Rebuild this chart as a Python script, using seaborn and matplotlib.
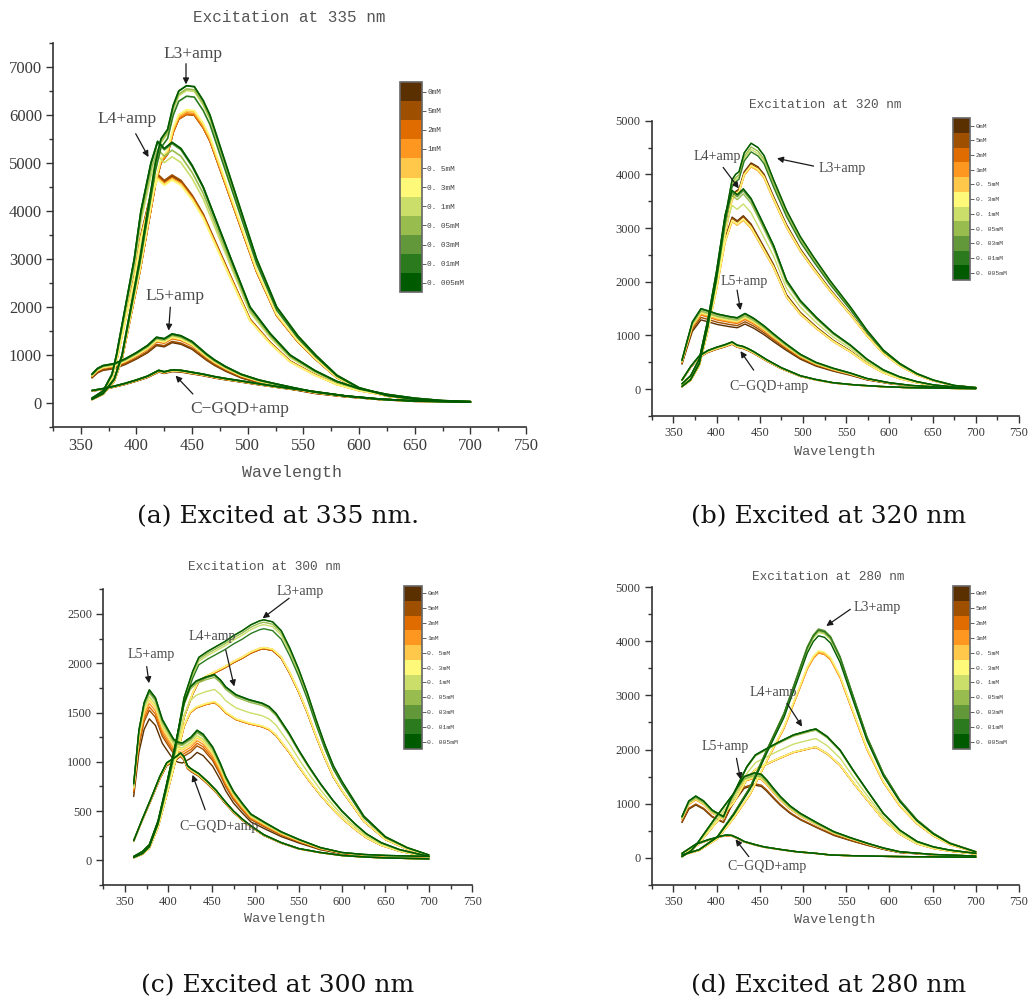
import numpy as np
import pandas as pd
import matplotlib
matplotlib.use("Agg")
import matplotlib.pyplot as plt
import seaborn as sns
from matplotlib.colors import ListedColormap, BoundaryNorm
from matplotlib.cm import ScalarMappable
from matplotlib.ticker import MultipleLocator

# ---------------- data ----------------
conc_labels = ["0mM", "5mM", "2mM", "1mM", "0. 5mM", "0. 3mM", "0. 1mM",
               "0. 05mM", "0. 03mM", "0. 01mM", "0. 005mM"]
conc_colors = ["#5B3000", "#9E4F00", "#E06C00", "#FD9720", "#FFC84A", "#FFF97A",
               "#CCDE6A", "#98BC4E", "#62983A", "#2C7A1E", "#005A00"]
groups = ["L3+amp", "L4+amp", "L5+amp", "C-GQD+amp"]

# (a) excitation 335 nm
a_L3_wl = [360, 370, 380, 387, 395, 403, 410, 417, 422, 428, 433, 438, 445, 452, 460, 466, 480, 494, 508, 526, 545, 561, 580, 600, 625, 650, 675, 700]
a_L3_I = [80, 200, 500, 1000, 2000, 3000, 4000, 5000, 5500, 5700, 6200, 6500, 6610, 6590, 6300, 6000, 5000, 4000, 3000, 2000, 1400, 1000, 580, 320, 160, 80, 40, 20]
a_L4_wl = [360, 370, 378, 382, 390, 398, 404, 413, 419, 425, 432, 440, 450, 460, 470, 485, 502, 520, 538, 560, 580, 600, 625, 650, 675, 700]
a_L4_I = [100, 250, 600, 1000, 2000, 3000, 4000, 5000, 5450, 5300, 5430, 5300, 4950, 4500, 3900, 3000, 2000, 1450, 1000, 680, 450, 300, 180, 100, 50, 30]
a_L5_wl = [360, 365, 370, 380, 390, 400, 410, 418, 425, 432, 440, 450, 463, 470, 480, 494, 510, 525, 541, 560, 587, 620, 650, 700]
a_L5_I = [600, 720, 780, 820, 920, 1050, 1200, 1370, 1340, 1440, 1400, 1280, 1020, 900, 760, 600, 480, 400, 320, 230, 150, 80, 40, 25]
a_C_wl = [360, 370, 380, 390, 400, 410, 420, 425, 432, 440, 450, 460, 470, 480, 494, 510, 530, 556, 590, 618, 650, 700]
a_C_I = [260, 300, 350, 410, 480, 560, 680, 650, 690, 680, 640, 600, 550, 510, 460, 400, 330, 250, 140, 80, 45, 20]
a_ratio_L3 = [0.91, 0.91, 0.91, 0.915, 0.92, 0.925, 0.985, 0.99, 1.0, 0.967, 1.0]
a_ratio_L4 = [0.87, 0.875, 0.865, 0.86, 0.86, 0.855, 0.945, 0.97, 0.995, 1.0, 1.0]
a_ratio_L5 = [0.875, 0.89, 0.93, 0.94, 0.95, 0.95, 0.97, 0.98, 0.99, 1.0, 1.0]
a_ratio_C = [0.95, 0.96, 0.97, 0.97, 0.98, 0.98, 0.99, 1.0, 1.0, 1.0, 1.0]

# (b) excitation 320 nm
b_L3_wl = [360, 370, 380, 390, 400, 410, 418, 422, 426, 432, 440, 448, 455, 466, 481, 497, 512, 531, 555, 574, 593, 612, 632, 651, 675, 700]
b_L3_I = [50, 180, 480, 1200, 2100, 3200, 3900, 4000, 4050, 4400, 4580, 4500, 4350, 3900, 3330, 2840, 2470, 2030, 1530, 1100, 730, 480, 290, 170, 70, 30]
b_L4_wl = [360, 370, 380, 390, 400, 410, 418, 424, 431, 440, 450, 466, 481, 497, 516, 535, 555, 574, 593, 612, 632, 651, 675, 700]
b_L4_I = [100, 250, 560, 1300, 2200, 3250, 3700, 3620, 3730, 3550, 3220, 2680, 2030, 1650, 1330, 1050, 820, 560, 360, 230, 140, 80, 40, 20]
b_L5_wl = [360, 366, 372, 382, 392, 401, 410, 416, 424, 433, 443, 455, 466, 480, 497, 515, 535, 555, 574, 600, 625, 650, 675, 700]
b_L5_I = [540, 900, 1250, 1500, 1450, 1400, 1370, 1350, 1330, 1410, 1320, 1180, 1030, 850, 650, 500, 390, 300, 200, 120, 70, 45, 25, 15]
b_C_wl = [360, 370, 380, 390, 400, 410, 418, 424, 430, 436, 443, 458, 475, 497, 515, 535, 560, 590, 620, 650, 700]
b_C_I = [170, 420, 620, 720, 780, 830, 880, 820, 800, 760, 700, 550, 400, 250, 180, 120, 80, 50, 30, 20, 10]
b_ratio_L3 = [0.92, 0.915, 0.905, 0.905, 0.905, 0.91, 0.975, 0.985, 1.0, 0.965, 1.0]
b_ratio_L4 = [0.866, 0.86, 0.845, 0.845, 0.845, 0.85, 0.925, 0.975, 0.99, 1.0, 1.0]
b_ratio_L5 = [0.86, 0.89, 0.92, 0.93, 0.94, 0.95, 0.96, 0.97, 0.99, 1.0, 1.0]
b_ratio_C = [0.95, 0.96, 0.96, 0.96, 0.97, 0.97, 0.98, 0.99, 1.0, 1.0, 1.0]

# (c) excitation 300 nm
c_L3_wl = [360, 370, 378, 388, 397, 408, 418, 428, 435, 445, 455, 465, 475, 485, 495, 505, 510, 520, 530, 540, 550, 560, 570, 580, 590, 600, 625, 650, 675, 700]
c_L3_I = [30, 70, 140, 380, 720, 1160, 1650, 1920, 2060, 2120, 2170, 2220, 2280, 2330, 2390, 2430, 2440, 2420, 2330, 2150, 1940, 1700, 1430, 1180, 960, 800, 450, 240, 130, 55]
c_L4_wl = [360, 370, 378, 388, 397, 408, 418, 425, 432, 443, 453, 460, 466, 478, 493, 508, 516, 524, 539, 550, 562, 575, 589, 600, 615, 628, 645, 666, 685, 700]
c_L4_I = [40, 90, 160, 400, 740, 1180, 1600, 1760, 1820, 1860, 1885, 1830, 1760, 1680, 1630, 1595, 1560, 1490, 1290, 1120, 950, 780, 615, 500, 370, 270, 180, 110, 70, 40]
c_L5_wl = [360, 366, 372, 378, 385, 393, 400, 406, 411, 416, 421, 426, 433, 440, 451, 460, 466, 475, 485, 495, 512, 530, 551, 575, 600, 625, 650, 675, 700]
c_L5_I = [780, 1320, 1600, 1730, 1650, 1430, 1320, 1230, 1200, 1190, 1220, 1250, 1320, 1280, 1150, 980, 850, 700, 580, 470, 380, 290, 210, 130, 80, 60, 50, 45, 40]
c_C_wl = [360, 370, 380, 390, 398, 405, 410, 414, 418, 422, 426, 435, 445, 455, 465, 475, 485, 495, 510, 530, 550, 575, 600, 625, 650, 675, 700]
c_C_I = [200, 420, 630, 850, 990, 1030, 1060, 1090, 1050, 960, 930, 880, 800, 710, 600, 500, 420, 350, 260, 180, 120, 80, 50, 35, 25, 20, 15]
c_ratio_L3 = [0.88, 0.88, 0.88, 0.885, 0.885, 0.885, 0.98, 0.99, 1.0, 0.963, 1.0]
c_ratio_L4 = [0.85, 0.85, 0.85, 0.85, 0.855, 0.855, 0.92, 0.985, 0.995, 1.0, 1.0]
c_ratio_L5 = [0.83, 0.88, 0.9, 0.92, 0.94, 0.95, 0.96, 0.98, 0.99, 1.0, 1.0]
c_ratio_C = [0.97, 0.97, 0.98, 0.98, 0.98, 0.99, 0.99, 1.0, 1.0, 1.0, 1.0]

# (d) excitation 280 nm
d_L3_wl = [360, 380, 401, 420, 439, 458, 478, 493, 505, 512, 518, 525, 532, 543, 558, 574, 593, 612, 632, 651, 670, 700]
d_L3_I = [50, 150, 390, 820, 1310, 1990, 2670, 3350, 3900, 4120, 4230, 4200, 4090, 3720, 3000, 2240, 1560, 1070, 700, 450, 270, 110]
d_L4_wl = [360, 378, 397, 420, 435, 445, 455, 470, 489, 509, 515, 528, 543, 558, 574, 593, 612, 632, 651, 670, 700]
d_L4_I = [80, 270, 700, 1190, 1680, 1900, 1990, 2120, 2270, 2360, 2380, 2240, 1990, 1620, 1250, 820, 510, 300, 200, 140, 80]
d_L5_wl = [360, 368, 376, 385, 395, 408, 416, 422, 432, 444, 452, 458, 466, 474, 485, 497, 517, 536, 555, 574, 593, 612, 650, 700]
d_L5_I = [760, 1050, 1140, 1050, 880, 760, 1070, 1250, 1500, 1570, 1540, 1440, 1280, 1130, 960, 820, 640, 480, 370, 270, 180, 110, 60, 30]
d_C_wl = [360, 370, 378, 390, 397, 405, 412, 418, 425, 432, 445, 455, 475, 493, 515, 532, 560, 612, 700]
d_C_I = [20, 120, 260, 330, 360, 400, 420, 410, 360, 300, 240, 200, 150, 110, 80, 50, 35, 20, 8]
d_ratio_L3 = [0.995, 0.9, 0.895, 0.895, 0.9, 0.905, 0.985, 0.99, 1.0, 0.995, 0.97]
d_ratio_L4 = [0.86, 0.857, 0.857, 0.857, 0.86, 0.86, 0.925, 0.99, 1.0, 1.0, 1.0]
d_ratio_L5 = [0.855, 0.87, 0.94, 0.94, 0.95, 0.95, 0.96, 0.97, 0.99, 1.0, 1.0]
d_ratio_C = [0.97, 0.97, 0.98, 0.98, 0.98, 0.99, 0.99, 1.0, 1.0, 1.0, 1.0]


def build_df(curves, ratios):
    rows = []
    for g in groups:
        wl, inten = curves[g]
        for c, r in zip(conc_labels, ratios[g]):
            for w, v in zip(wl, inten):
                rows.append((g, c, w, v * r))
    return pd.DataFrame(rows, columns=["group", "conc", "wl", "I"])


df_a = build_df({"L3+amp": (a_L3_wl, a_L3_I), "L4+amp": (a_L4_wl, a_L4_I),
                 "L5+amp": (a_L5_wl, a_L5_I), "C-GQD+amp": (a_C_wl, a_C_I)},
                {"L3+amp": a_ratio_L3, "L4+amp": a_ratio_L4,
                 "L5+amp": a_ratio_L5, "C-GQD+amp": a_ratio_C})
df_b = build_df({"L3+amp": (b_L3_wl, b_L3_I), "L4+amp": (b_L4_wl, b_L4_I),
                 "L5+amp": (b_L5_wl, b_L5_I), "C-GQD+amp": (b_C_wl, b_C_I)},
                {"L3+amp": b_ratio_L3, "L4+amp": b_ratio_L4,
                 "L5+amp": b_ratio_L5, "C-GQD+amp": b_ratio_C})
df_c = build_df({"L3+amp": (c_L3_wl, c_L3_I), "L4+amp": (c_L4_wl, c_L4_I),
                 "L5+amp": (c_L5_wl, c_L5_I), "C-GQD+amp": (c_C_wl, c_C_I)},
                {"L3+amp": c_ratio_L3, "L4+amp": c_ratio_L4,
                 "L5+amp": c_ratio_L5, "C-GQD+amp": c_ratio_C})
df_d = build_df({"L3+amp": (d_L3_wl, d_L3_I), "L4+amp": (d_L4_wl, d_L4_I),
                 "L5+amp": (d_L5_wl, d_L5_I), "C-GQD+amp": (d_C_wl, d_C_I)},
                {"L3+amp": d_ratio_L3, "L4+amp": d_ratio_L4,
                 "L5+amp": d_ratio_L5, "C-GQD+amp": d_ratio_C})

# ---------------- layout ----------------
W, H = 1028, 1002


def fx(px):
    return px / W


def fy(py):
    return 1 - py / H


panels = [
    dict(df=df_a, rect=(53, 43, 526, 427), ylim=(-500, 7500), ymaj=1000, ymin=500,
         fs_tick=12, fs_title=11.5, fs_ann=12.5, lw=1.2,
         title="Excitation at 335 nm", title_xy=(289, 18), xlabel_xy=(292, 473),
         cbar=(400, 82, 421.7, 292.3), cb_fs=5.6,
         caption="(a) Excited at 335 nm.", cap_xy=(278, 517),
         ann=[("L3+amp", (450.7, 7278), (444.5, 7069), (444.5, 6638)),
              ("L4+amp", (391.5, 5922), (399.3, 5610), (410.8, 5123)),
              ("L5+amp", (435, 2224), (430.4, 1995), (428.9, 1508)),
              ("C\u2212GQD+amp", (492.8, -125), (450.7, 188), (435.1, 570))]),
    dict(df=df_b, rect=(651.7, 120.7, 1019, 416), ylim=(-500, 5000), ymaj=1000, ymin=500,
         fs_tick=9, fs_title=9.2, fs_ann=10, lw=1.0,
         title="Excitation at 320 nm", title_xy=(825, 105), xlabel_xy=(835, 452),
         cbar=(952.7, 118.3, 970, 280), cb_fs=4.6,
         caption="(b) Excited at 320 nm", cap_xy=(829, 517),
         ann=[("L3+amp", (545, 4112), (512.3, 4155), (470, 4298)),
              ("L4+amp", (400.8, 4342), (407.7, 4130), (425.8, 3739)),
              ("L5+amp", (431.5, 2000), (423.8, 1845), (427.7, 1472)),
              ("C\u2212GQD+amp", (460.4, 43), (443, 354), (427.7, 708))]),
    dict(df=df_c, rect=(103.3, 589.3, 472.3, 885), ylim=(-250, 2750), ymaj=500, ymin=250,
         fs_tick=9, fs_title=9.2, fs_ann=10, lw=1.0,
         title="Excitation at 300 nm", title_xy=(264, 567), xlabel_xy=(285, 919),
         cbar=(404.3, 586, 421.7, 749), cb_fs=4.6,
         caption="(c) Excited at 300 nm", cap_xy=(278, 986),
         ann=[("L3+amp", (552, 2730), (539, 2659), (508.5, 2456)),
              ("L4+amp", (450.8, 2270), (466, 2135), (475.8, 1764)),
              ("L5+amp", (379.6, 2084), (375, 1966), (377.7, 1797)),
              ("C\u2212GQD+amp", (457.7, 345), (442.3, 514), (427.7, 868))]),
    dict(df=df_d, rect=(651.7, 587.3, 1019, 884.7), ylim=(-500, 5000), ymaj=1000, ymin=500,
         fs_tick=9, fs_title=9.2, fs_ann=10, lw=1.0,
         title="Excitation at 280 nm", title_xy=(828, 577), xlabel_xy=(835, 920),
         cbar=(952.7, 586, 970, 749), cb_fs=4.6,
         caption="(d) Excited at 280 nm", cap_xy=(829, 986),
         ann=[("L3+amp", (585.6, 4630), (554.8, 4593), (527, 4285)),
              ("L4+amp", (466, 3052), (481.6, 2854), (499, 2423)),
              ("L5+amp", (410.4, 2053), (423.1, 1837), (427.8, 1449)),
              ("C\u2212GQD+amp", (458.5, -166), (437.4, 18), (422, 339))]),
]

sns.set_theme(style="white")
plt.rcParams["font.family"] = ["Liberation Serif", "DejaVu Sans"]
plt.rcParams["axes.linewidth"] = 1.2

fig = plt.figure(figsize=(W / 100, H / 100), dpi=100)
fig.patch.set_facecolor("white")

cmap = ListedColormap(conc_colors)
norm = BoundaryNorm(np.arange(12), 11)
mono = ["Liberation Mono", "DejaVu Sans Mono"]

for p in panels:
    l, t, r, b = p["rect"]
    ax = fig.add_axes([fx(l), fy(b), fx(r) - fx(l), fy(t) - fy(b)])
    sns.lineplot(data=p["df"], x="wl", y="I", hue="conc", hue_order=conc_labels,
                 palette=conc_colors, units="group", estimator=None, sort=False,
                 legend=False, linewidth=p["lw"], ax=ax)
    ax.set_xlim(325, 750)
    ax.set_ylim(*p["ylim"])
    ax.set_xlabel("")
    ax.set_ylabel("")
    sns.despine(ax=ax)
    for s in ("left", "bottom"):
        ax.spines[s].set_color("#333333")
    ax.xaxis.set_major_locator(MultipleLocator(50))
    ax.xaxis.set_minor_locator(MultipleLocator(25))
    ax.yaxis.set_major_locator(MultipleLocator(p["ymaj"]))
    ax.yaxis.set_minor_locator(MultipleLocator(p["ymin"]))
    ax.set_xticks(np.arange(350, 751, 50))
    ax.set_yticks(np.arange(0, p["ylim"][1] + 1, p["ymaj"]))
    ax.tick_params(which="both", bottom=True, left=True, direction="out",
                   color="#333333", width=1.0)
    ax.tick_params(which="major", length=5, labelsize=p["fs_tick"],
                   labelcolor="#3a3a3a", pad=3)
    ax.tick_params(which="minor", length=3)
    ax.grid(False)

    for label, txy, tail, head in p["ann"]:
        ax.annotate("", xy=head, xytext=tail,
                    arrowprops=dict(arrowstyle="-|>", color="#1a1a1a", lw=0.9,
                                    mutation_scale=9, shrinkA=0, shrinkB=0))
        ax.text(txy[0], txy[1], label, ha="center", va="center",
                fontsize=p["fs_ann"], color="#4a4a4a")

    fig.text(fx(p["title_xy"][0]), fy(p["title_xy"][1]), p["title"], ha="center",
             va="center", fontsize=p["fs_title"], color="#555555", family=mono)
    fig.text(fx(p["xlabel_xy"][0]), fy(p["xlabel_xy"][1]), "Wavelength", ha="center",
             va="center", fontsize=p["fs_title"] + 0.5, color="#555555", family=mono)

    cl, ct, cr, cbm = p["cbar"]
    cax = fig.add_axes([fx(cl), fy(cbm), fx(cr) - fx(cl), fy(ct) - fy(cbm)])
    cb = fig.colorbar(ScalarMappable(norm=norm, cmap=cmap), cax=cax,
                      ticks=np.arange(11) + 0.5)
    cb.ax.set_yticklabels(conc_labels)
    cax.invert_yaxis()
    cb.outline.set_edgecolor("#666666")
    cb.outline.set_linewidth(1.2)
    cax.tick_params(which="both", right=True, length=3, width=0.6, color="#444444",
                    labelsize=p["cb_fs"], labelcolor="#444444", pad=1)
    cax.minorticks_off()
    for tl in cax.get_yticklabels():
        tl.set_family(mono)

    fig.text(fx(p["cap_xy"][0]), fy(p["cap_xy"][1]), p["caption"], ha="center",
             va="center", fontsize=18, color="#111111", family="DejaVu Serif")

fig.savefig("out.png", dpi=100, facecolor="white")
